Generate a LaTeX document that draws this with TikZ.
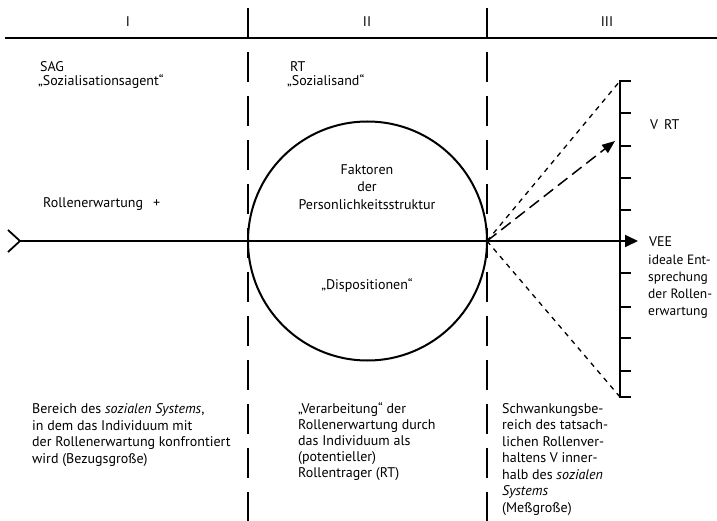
\documentclass[tikz,border=0pt]{standalone}
\usepackage{fontspec}
\setmainfont{PT Sans}
\usetikzlibrary{arrows.meta}
\begin{document}
\begin{tikzpicture}[x=1pt,y=-1pt,
  txt/.style={font=\fontsize{14}{16.5}\selectfont, inner sep=0pt},
  lab/.style={txt, anchor=base west, align=left},
  frame/.style={line width=1.8pt},
  divider/.style={line width=1.6pt, dash pattern=on 30pt off 14pt},
  axis/.style={line width=1.8pt},
  bound/.style={line width=1.3pt, dash pattern=on 5pt off 5pt},
  vrt/.style={line width=1.5pt, dash pattern=on 12pt off 6pt},
  scaleline/.style={line width=1.7pt},
  tick/.style={line width=1.4pt}]
\useasboundingbox (0,0) rectangle (717,521);
% frame
\coordinate (tl) at (5,38); \coordinate (tr) at (717,38);
\draw[frame] (tl) -- (tr);
\coordinate (d1t) at (248,8); \coordinate (d1b) at (248,521);
\coordinate (d2t) at (487,8); \coordinate (d2b) at (487,521);
\draw[divider] (d1t) -- (d1b);
\draw[divider] (d2t) -- (d2b);
% headers
\node[txt] (h1) at (128,22) {I};
\node[txt] (h2) at (367,22) {II};
\node[txt] (h3) at (607,22) {III};
% top labels
\node[lab] (sag) at (40,72) {SAG};
\node[lab] (sagq) at (38,86) {„Sozialisationsagent“};
\node[lab] (rt) at (290,72) {RT};
\node[lab] (rtq) at (287,86) {„Sozialisand“};
\node[lab] (re) at (43,208) {Rollenerwartung\hspace{10pt}+};
% circle
\node[circle, draw, line width=2pt, minimum size=239pt, inner sep=0pt] (C) at (367.5,241) {};
\node[txt, anchor=base] (f1) at (367,175) {Faktoren};
\node[txt, anchor=base] (f2) at (367,192) {der};
\node[txt, anchor=base] (f3) at (367,210) {Personlichkeitsstruktur};
\node[txt, anchor=base] (disp) at (367,290) {„Dispositionen“};
% main axis
\coordinate (tail) at (20,241);
\coordinate (tailu) at (8,230); \coordinate (taild) at (8,252);
\coordinate (head) at (638,241);
\coordinate (origin) at (487,241);
\draw[axis] (tailu) -- (tail) -- (taild);
\draw[axis, -{Triangle[length=13pt,width=12pt]}] (tail) -- (head);
% scale
\coordinate (st) at (620,81); \coordinate (sb) at (620,397);
\draw[scaleline] (631,81) -- (st) -- (sb) -- (631,397);
\foreach \yy in {113,146,178,210,273,307,338,371} \draw[tick] (620,\yy) -- (631,\yy);
% boundaries and V_RT
\draw[bound] (origin) -- (st);
\draw[bound] (origin) -- (sb);
\coordinate (vrtend) at (615,141);
\draw[vrt, -{Triangle[length=13pt,width=10pt]}] (origin) -- (vrtend);
\node[lab] (vrtl) at (650,130) {V\hspace{6pt}RT};
\node[lab] (vee) at (649,247) {VEE};
% multi-line nodes: base anchor is the baseline of the last line
\node[lab, font=\fontsize{13.5}{16.7}\selectfont] (ideal) at (648,315) {ideale Ent-\\sprechung\\der Rollen-\\erwartung};
% bottom texts
\node[lab] (b1) at (32,463) {Bereich des \textit{sozialen Systems},\\in dem das Individuum mit\\der Rollenerwartung konfrontiert\\wird (Bezugsgroße)};
\node[lab, font=\fontsize{14}{16}\selectfont] (b2) at (298,477) {„Verarbeitung“ der\\Rollenerwartung durch\\das Individuum als\\(potentieller)\\Rollentrager (RT)};
\node[lab] (b3) at (502,512) {Schwankungsbe-\\reich des tatsach-\\lichen Rollenver-\\haltens V inner-\\halb des \textit{sozialen}\\\textit{Systems}\\(Meßgroße)};
\end{tikzpicture}
\end{document}
